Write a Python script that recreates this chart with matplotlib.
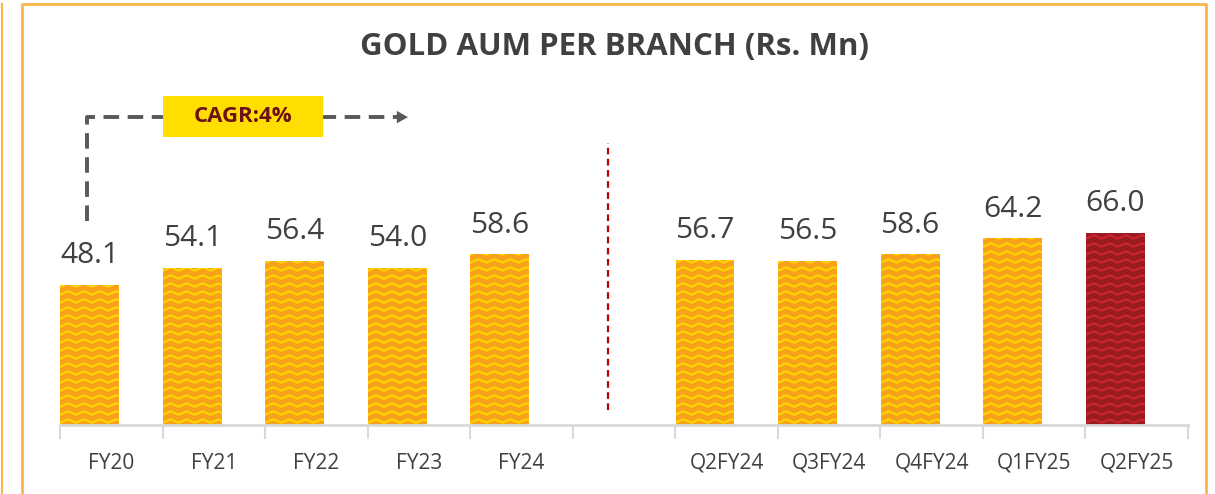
import numpy as np
import matplotlib
matplotlib.use("Agg")
import matplotlib.pyplot as plt
from matplotlib.collections import LineCollection
from matplotlib.patches import Rectangle

plt.rcParams['font.family'] = ['Open Sans', 'DejaVu Sans']

# data
categories = ["FY20", "FY21", "FY22", "FY23", "FY24", "",
              "Q2FY24", "Q3FY24", "Q4FY24", "Q1FY25", "Q2FY25"]
values = [48.1, 54.1, 56.4, 54.0, 58.6, None, 56.7, 56.5, 58.6, 64.2, 66.0]
highlight = "Q2FY25"
cagr_text = "CAGR:4%"
title = "GOLD AUM PER BRANCH (Rs. Mn)"

orange, orange_zz = "#F8A11B", "#FFD400"
red, red_zz = "#9A1B20", "#C9262E"

fig = plt.figure(figsize=(12.15, 4.94), dpi=100)
ax = fig.add_axes([60 / 1215, 69 / 494, 1128 / 1215, 291 / 494])

xs = np.arange(len(categories))
off, w = -0.21, 0.575
for x, cat, v in zip(xs, categories, values):
    if v is None:
        continue
    fc, zc = (red, red_zz) if cat == highlight else (orange, orange_zz)
    bar = ax.bar(x + off, v, width=w, color=fc, zorder=2)[0]
    # zigzag texture clipped to the bar
    segs = []
    period, amp, gap = 0.156, 0.6, 2.75
    zx = np.arange(x + off - w / 2 - period, x + off + w / 2 + period, period / 2)
    for yy in np.arange(gap / 2, v + gap, gap):
        zy = yy + amp * np.where(np.arange(len(zx)) % 2 == 0, -1, 1)
        segs.append(np.column_stack([zx, zy]))
    lc = LineCollection(segs, colors=zc, linewidths=1.6, zorder=3)
    ax.add_collection(lc)
    lc.set_clip_path(bar)
    ax.text(x + off, v + 5, f"{v:.1f}", ha="center", va="bottom",
            fontsize=21.5, color="#404040")

ax.set_xlim(-0.5, len(categories) - 0.5)
ax.set_ylim(0, 100)
ax.set_xticks(xs)
ax.set_xticklabels(categories, fontsize=15, color="#404040")
ax.tick_params(axis="x", which="major", length=0, pad=20)
ax.set_xticks(np.arange(-0.5, len(categories)), minor=True)
ax.tick_params(axis="x", which="minor", length=10, width=1.5, color="#D9D9D9")
ax.set_yticks([])
for s in ["top", "right", "left"]:
    ax.spines[s].set_visible(False)
ax.spines["bottom"].set_color("#D9D9D9")
ax.spines["bottom"].set_linewidth(2)

# divider between yearly and quarterly
ax.plot([4.84, 4.84], [5, 97], color="#C00000", lw=1.6, ls=(0, (3, 2)),
        clip_on=False, zorder=1)

# CAGR arrow and box
ax.plot([-0.24, -0.24, 2.8], [70, 105.8, 105.8], color="#595959", lw=2.8,
        ls=(0, (4, 2.2)), clip_on=False, zorder=4)
ax.annotate("", xy=(2.92, 105.8), xytext=(2.78, 105.8),
            arrowprops=dict(arrowstyle="-|>,head_length=0.8,head_width=0.45",
                            color="#595959", lw=0), annotation_clip=False)
ax.add_patch(Rectangle((0.505, 99), 1.56, 14, facecolor="#FFDE00",
                       edgecolor="none", clip_on=False, zorder=5))
ax.text(1.285, 106, cagr_text, ha="center", va="center", fontsize=16,
        fontweight="bold", color="#6B1216", zorder=6)

fig.text(614 / 1215, 1 - 47 / 494, title, ha="center", va="center",
         fontsize=22.5, fontweight="bold", color="#404040")

# frame
fc_frame = "#F9B54A"
fig.add_artist(plt.Line2D([22 / 1215, 22 / 1215, 1206 / 1215, 1206 / 1215],
                          [0, 1 - 4 / 494, 1 - 4 / 494, 0],
                          transform=fig.transFigure, color=fc_frame, lw=2))
fig.add_artist(plt.Line2D([1.5 / 1215, 1.5 / 1215], [0, 1 - 4 / 494],
                          transform=fig.transFigure, color=fc_frame, lw=1.5))

fig.savefig("out.png", dpi=100)
